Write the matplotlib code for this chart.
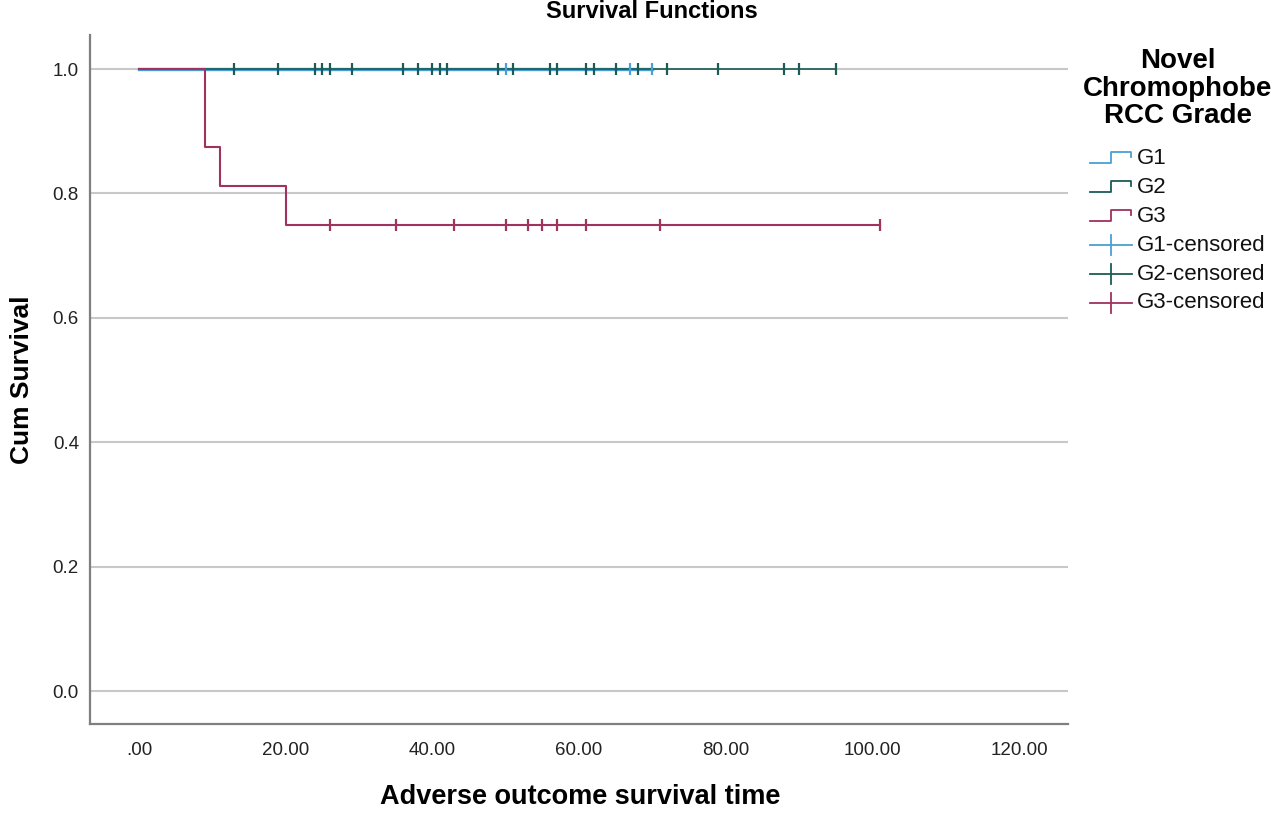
import matplotlib
matplotlib.use("Agg")
import matplotlib.pyplot as plt
import numpy as np

plt.rcParams['font.family'] = ['Liberation Sans', 'DejaVu Sans']

# Kaplan-Meier step data (time, cumulative survival)
g1_times = [0, 70]
g1_surv = [1.0, 1.0]
g2_times = [0, 95]
g2_surv = [1.0, 1.0]
g3_times = [0, 9, 11, 20, 101]
g3_surv = [1.0, 0.875, 0.8125, 0.75, 0.75]

# censored observations
g1_cens = [50, 67, 70]
g2_cens = [13, 19, 24, 25, 26, 29, 36, 38, 40, 41, 42, 49, 51, 56, 57, 61, 62,
           65, 68, 72, 79, 88, 90, 95]
g3_cens = [26, 35, 43, 50, 53, 55, 57, 61, 71, 101]

x_ticks = [0, 20, 40, 60, 80, 100, 120]
x_labels = ['.00', '20.00', '40.00', '60.00', '80.00', '100.00', '120.00']
y_ticks = [0.0, 0.2, 0.4, 0.6, 0.8, 1.0]
y_labels = ['0.0', '0.2', '0.4', '0.6', '0.8', '1.0']

groups = ['G1', 'G2', 'G3']
colors = {'G1': '#4a9fd6', 'G2': '#1d5c55', 'G3': '#a0325e'}
widths = {'G1': 2.4, 'G2': 1.2, 'G3': 1.5}


def surv_at(t, times, surv):
    idx = np.searchsorted(times, t, side='right') - 1
    return np.array(surv)[idx]


fig = plt.figure(figsize=(12.8, 8.15), dpi=100)
ax = fig.add_axes([90 / 1280, 1 - 724 / 815, (1068 - 90) / 1280, (724 - 35) / 815])

ax.set_xlim(-6.68, 126.65)
ax.set_ylim(-0.053, 1.0547)
for y in y_ticks:
    ax.axhline(y, color='#c8c8c8', lw=1.5, zorder=0)

data = {'G1': (g1_times, g1_surv, g1_cens),
        'G2': (g2_times, g2_surv, g2_cens),
        'G3': (g3_times, g3_surv, g3_cens)}
order = ['G1', 'G2', 'G3']
for z, g in enumerate(order):
    t, s, c = data[g]
    ax.step(t, s, where='post', color=colors[g], lw=widths[g], zorder=2 + z)
for z, g in enumerate(order):
    t, s, c = data[g]
    ax.plot(c, surv_at(c, t, s), ls='none', marker='|', ms=8.5, mew=1.6,
            color=colors[g], zorder=6 + z)

ax.set_xticks(x_ticks)
ax.set_xticklabels(x_labels)
ax.set_yticks(y_ticks)
ax.set_yticklabels(y_labels)
ax.tick_params(length=0, labelsize=13.5, colors='#222222')
ax.tick_params(axis='x', pad=13)
ax.tick_params(axis='y', pad=8)
for side in ['top', 'right']:
    ax.spines[side].set_visible(False)
for side in ['left', 'bottom']:
    ax.spines[side].set_color('#7f7f7f')
    ax.spines[side].set_linewidth(1.6)

fig.text(580 / 1280, 1 - 797 / 815, 'Adverse outcome survival time', ha='center',
         va='center', fontsize=19.5, fontweight='bold')
fig.text(22 / 1280, 1 - 380 / 815, 'Cum Survival', ha='center', va='center',
         rotation=90, fontsize=19, fontweight='bold')
fig.text(652 / 1280, 1 - 12 / 815, 'Survival Functions', ha='center', va='center',
         fontsize=17, fontweight='bold')

# legend drawn in pixel coordinates of the figure
lg = fig.add_axes([0, 0, 1, 1], facecolor='none')
lg.set_xlim(0, 1280)
lg.set_ylim(815, 0)
lg.axis('off')
for i, line in enumerate(['Novel', 'Chromophobe', 'RCC Grade']):
    lg.text(1178, 61 + i * 27.5, line, ha='center', va='center', fontsize=20,
            fontweight='bold')
entries = [(g, 'step') for g in groups] + [(g, 'cens') for g in groups]
for i, (g, kind) in enumerate(entries):
    y = 159 + i * 28.8
    if kind == 'step':
        lg.plot([1090, 1111, 1111, 1131, 1131], [y + 4, y + 4, y - 7, y - 7, y - 2],
                color=colors[g], lw=1.3)
        label = g
    else:
        lg.plot([1090, 1132], [y, y], color=colors[g], lw=1.3)
        lg.plot([1111, 1111], [y - 10, y + 10], color=colors[g], lw=1.3)
        label = g + '-censored'
    lg.text(1137, y, label, ha='left', va='center', fontsize=16, color='#111111')

fig.savefig('out.png', dpi=100)
